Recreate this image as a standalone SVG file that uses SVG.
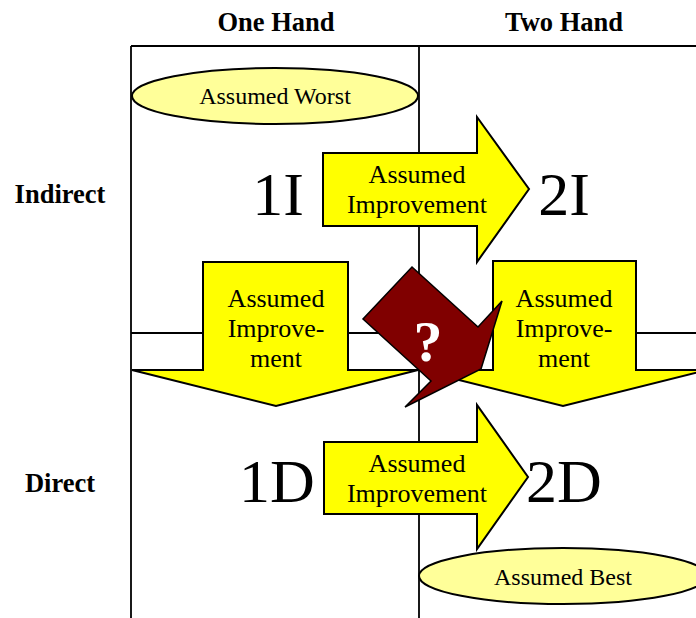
<svg xmlns="http://www.w3.org/2000/svg" width="696" height="618" viewBox="0 0 696 618">
<style>
.grid{stroke:#000;stroke-width:1.8;fill:none}
.hdr{font-family:"Liberation Serif","Times New Roman",serif;font-weight:bold;font-size:26.5px;fill:#000;text-anchor:middle}
.big{font-family:"Liberation Serif","Times New Roman",serif;font-size:62px;fill:#000;text-anchor:middle}
.arr{fill:#FFFF00;stroke:#000;stroke-width:2;stroke-linejoin:miter}
.atx{font-family:"Liberation Serif","Times New Roman",serif;font-size:26px;fill:#000;text-anchor:middle}
.ell{fill:#FFFF99;stroke:#000;stroke-width:2}
.etx{font-family:"Liberation Serif","Times New Roman",serif;font-size:24px;fill:#000;text-anchor:middle}
</style>
<rect width="696" height="618" fill="#fff"/>
<g id="grid">
<line class="grid" x1="131" y1="46" x2="696" y2="46" style="stroke-width:2.2"/>
<line class="grid" x1="131" y1="46" x2="131" y2="618"/>
<line class="grid" x1="419" y1="46" x2="419" y2="618"/>
<line class="grid" x1="131" y1="333" x2="696" y2="333"/>
</g>
<g id="headers">
<text class="hdr" x="276" y="31">One Hand</text>
<text class="hdr" x="564" y="31">Two Hand</text>
<text class="hdr" x="60" y="203">Indirect</text>
<text class="hdr" x="60" y="492">Direct</text>
</g>
<g id="assumed-worst">
<ellipse class="ell" cx="275" cy="96" rx="143" ry="28"/>
<text class="etx" x="275" y="104">Assumed Worst</text>
</g>
<g id="n1I"><text class="big" x="278" y="215">1I</text></g>
<g id="n2I"><text class="big" x="564" y="215">2I</text></g>
<g id="n1D"><text class="big" x="277" y="502">1D</text></g>
<g id="n2D"><text class="big" x="564" y="502">2D</text></g>
<g id="connectors">
<g id="arrow-1I-2I">
<polygon class="arr" points="323,153 477,153 477,117 529,189 477,262 477,226 323,226"/>
<text class="atx" x="417" y="183">Assumed</text>
<text class="atx" x="417" y="213">Improvement</text>
</g>
<g id="arrow-1I-1D">
<polygon class="arr" points="203,262 348,262 348,370 418,370 276,406 132,370 203,370"/>
<text class="atx" x="276" y="307">Assumed</text>
<text class="atx" x="276" y="337">Improve-</text>
<text class="atx" x="276" y="367">ment</text>
</g>
<g id="arrow-2I-2D">
<polygon class="arr" points="493,261 636,261 636,370 707,370 563,406 419,370 493,370"/>
<text class="atx" x="564" y="307">Assumed</text>
<text class="atx" x="564" y="337">Improve-</text>
<text class="atx" x="564" y="367">ment</text>
</g>
<g id="arrow-1I-2D">
<polygon points="412,267 478,327 502,301 481,369 405,407 431,381 363,319" fill="#800000" stroke="#000" stroke-width="1.5" stroke-linejoin="miter"/>
<text x="428" y="361" font-family="Liberation Serif,Times New Roman,serif" font-weight="bold" font-size="58" fill="#fff" text-anchor="middle">?</text>
</g>
<g id="arrow-1D-2D">
<polygon class="arr" points="324,442 477,442 477,405 528,477 477,549 477,514 324,514"/>
<text class="atx" x="417" y="472">Assumed</text>
<text class="atx" x="417" y="502">Improvement</text>
</g>
</g>
<g id="assumed-best">
<ellipse class="ell" cx="563" cy="576" rx="144" ry="28"/>
<text class="etx" x="563" y="585">Assumed Best</text>
</g>
</svg>
